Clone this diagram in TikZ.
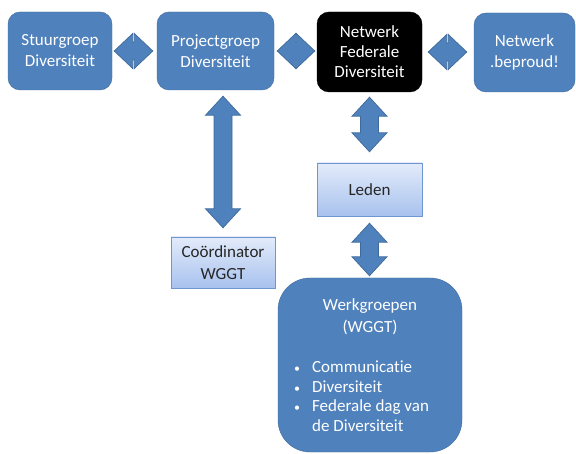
\documentclass[tikz,border=0pt]{standalone}
\usepackage{fontspec}
\setmainfont{Carlito}[Ligatures=NoCommon]
\usetikzlibrary{calc}

\definecolor{boxblue}{HTML}{4F81BD}
\definecolor{edgeblue}{HTML}{3E6A9C}
\definecolor{lighttop}{HTML}{E3EBFA}
\definecolor{lightbot}{HTML}{A8C2EE}
\definecolor{lightedge}{HTML}{6E97D2}

\tikzset{
  bluebox/.style={draw=edgeblue, fill=boxblue, rounded corners=12pt, text=white,
    align=center, inner sep=0pt, font=\fontsize{17}{21}\selectfont},
  blackbox/.style={draw=black, fill=black, rounded corners=12pt, text=white,
    align=center, inner sep=0pt, font=\fontsize{17}{20}\selectfont},
  lightbox/.style={draw=lightedge, top color=lighttop, bottom color=lightbot,
    text=black!85, align=center, inner sep=0pt, font=\fontsize{17}{22}\selectfont},
  blockarrow/.style={draw=edgeblue, fill=boxblue, line width=0.7pt, line join=miter}
}

% double block arrow, left tip to right tip
\newcommand{\hdarrow}[2]{%
  \path[blockarrow] let \p1=(#1), \p2=(#2) in
    (\x1,\y1) -- (\x1+18.5pt,\y1+17.5pt) -- (\x1+18.5pt,\y1+9pt)
    -- (\x2-18.5pt,\y1+9pt) -- (\x2-18.5pt,\y1+17.5pt) -- (\x2,\y1)
    -- (\x2-18.5pt,\y1-17.5pt) -- (\x2-18.5pt,\y1-9pt)
    -- (\x1+18.5pt,\y1-9pt) -- (\x1+18.5pt,\y1-17.5pt) -- cycle;}
% double block arrow, top tip to bottom tip
\newcommand{\vdarrow}[2]{%
  \path[blockarrow] let \p1=(#1), \p2=(#2) in
    (\x1,\y1) -- (\x1+17.5pt,\y1-19pt) -- (\x1+9pt,\y1-19pt)
    -- (\x1+9pt,\y2+19pt) -- (\x1+17.5pt,\y2+19pt) -- (\x1,\y2)
    -- (\x1-17.5pt,\y2+19pt) -- (\x1-9pt,\y2+19pt)
    -- (\x1-9pt,\y1-19pt) -- (\x1-17.5pt,\y1-19pt) -- cycle;}
\newcommand{\smallbullet}{{\fontsize{12}{12}\selectfont\textbullet}}

\begin{document}
\begin{tikzpicture}[x=1pt, y=-1pt]
  \useasboundingbox (0,0) rectangle (576,454);

  % top row
  \node[bluebox, minimum width=104pt, minimum height=78pt] (stuur) at (60,51) {Stuurgroep\\Diversiteit};
  \node[bluebox, minimum width=117pt, minimum height=78pt] (proj) at (215.5,51) {Projectgroep\\Diversiteit};
  \node[blackbox, minimum width=105pt, minimum height=80pt] (fed) at (369.5,52) {Netwerk\\Federale\\Diversiteit};
  \node[bluebox, minimum width=101pt, minimum height=79pt] (proud) at (524.5,52.5) {Netwerk\\.beproud!};

  % lower part
  \node[lightbox, minimum width=104pt, minimum height=51pt] (coord) at (223,262.5) {Coördinator\\WGGT};
  \node[lightbox, minimum width=105pt, minimum height=53pt] (leden) at (369.5,189.5) {Leden};
  \node[bluebox, rounded corners=32pt, minimum width=184pt, minimum height=174pt] (werk) at (370,365) {};
  \node[text=white, align=center, inner sep=0pt, font=\fontsize{17}{22}\selectfont, anchor=north] (werktitel) at (370,298) {Werkgroepen\\(WGGT)};
  \node[text=white, inner sep=0pt, font=\fontsize{17}{19.5}\selectfont, anchor=north west] (werklijst) at (294,359)
    {\begin{tabular}{@{}l@{\hspace{12pt}}l@{}}
      \smallbullet & Communicatie\\
      \smallbullet & Diversiteit\\
      \smallbullet & Federale dag van\\
                   & de Diversiteit
    \end{tabular}};

  % arrows
  \coordinate (h1a) at ([xshift=2pt]stuur.east);
  \coordinate (h1b) at ([xshift=-4pt]proj.west);
  \coordinate (h2a) at ([xshift=3pt]proj.east);
  \coordinate (h2b) at ([xshift=-2pt]fed.west |- proj.east);
  \coordinate (h3a) at ([xshift=6pt]fed.east);
  \coordinate (h3b) at ([xshift=-7pt]proud.west |- fed.east);
  \hdarrow{h1a}{h1b}
  \hdarrow{h2a}{h2b}
  \hdarrow{h3a}{h3b}

  \coordinate (v1a) at ($(proj.south -| coord.north)+(0,6)$);
  \coordinate (v1b) at ($(coord.north)+(0,-9)$);
  \coordinate (v2a) at ($(fed.south)+(0,5)$);
  \coordinate (v2b) at ($(leden.north)+(0,-11)$);
  \coordinate (v3a) at ($(leden.south)+(0,7)$);
  \coordinate (v3b) at ($(werk.north -| leden.south)+(0,-2)$);
  \vdarrow{v1a}{v1b}
  \vdarrow{v2a}{v2b}
  \vdarrow{v3a}{v3b}
\end{tikzpicture}
\end{document}
